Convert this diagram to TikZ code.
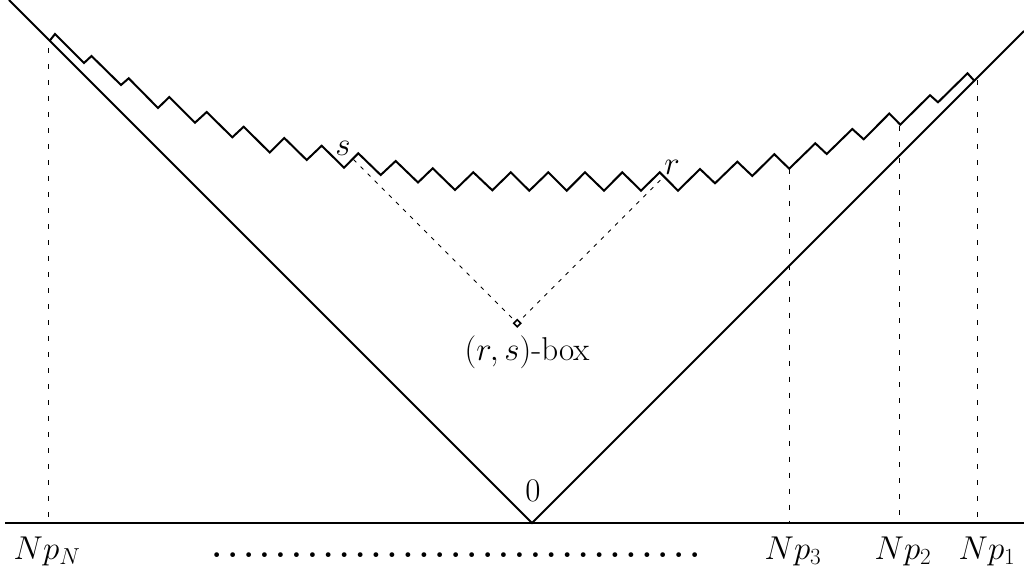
\RequirePackage{fix-cm}
\documentclass[tikz,border=0pt]{standalone}
\usetikzlibrary{calc}
\begin{document}
\begin{tikzpicture}[x=1pt,y=-1pt,
  thick line/.style={line width=2pt},
  guide/.style={line width=0.9pt, dash pattern=on 5pt off 11pt},
  lab/.style={font=\fontsize{33}{40}\selectfont, inner sep=0pt}]
\useasboundingbox (0,0) rectangle (1024,578);
% axis and cone
\coordinate (axL) at (5,523);
\coordinate (axR) at (1024,523);
\coordinate (apex) at (532,523);
\coordinate (coneL) at (9,0);
\coordinate (coneR) at (1024,31);
\draw[line width=2.4pt] (axL) -- (axR);
\draw[thick line] (coneL) -- (apex) -- (coneR);
% zigzag
\coordinate (zs) at (49.5,41);
\coordinate (ze) at (974.5,81);
\coordinate (speak) at (358.3,153.3);
\coordinate (rpeak) at (659.7,172.3);
\coordinate (v3) at (789.2,168.7);
\coordinate (v2) at (900.3,124.7);
\draw[thick line, line join=miter]
 (zs) -- (55,34) -- (84,63) -- (91.5,56) -- (121,85) -- (128.7,78.3) -- (158,108)
 -- (169.3,97) -- (195,122.7) -- (206.7,112) -- (232.3,137.3) -- (243.7,126.7)
 -- (269.7,152.5) -- (284.3,138) -- (306.7,160) -- (321.7,145.7) -- (344,167.7)
 -- (speak) -- (380.7,175) -- (395.7,161) -- (418,182.5) -- (432.7,168.3)
 -- (455,190) -- (473.3,172.3) -- (492.3,190.3) -- (510.8,172.3) -- (529.3,190.7)
 -- (548.3,172.3) -- (566.7,190.7) -- (585,172.3) -- (604,190.7) -- (622.3,172.3)
 -- (641,190.7) -- (rpeak) -- (678,190.7) -- (700,169) -- (715,183.3)
 -- (737.3,161.7) -- (752.3,176) -- (774.3,154.2) -- (v3) -- (815.3,143.3)
 -- (826.7,154) -- (852.3,129) -- (863.7,139.3) -- (889.3,113.5) -- (v2)
 -- (930,95.2) -- (938,102.3) -- (967.5,73.3) -- (ze);
% dashed verticals
\coordinate (dN) at (48.3,48);
\coordinate (dNb) at (48.3,523);
\coordinate (d3b) at (789.2,523);
\coordinate (d2) at (899.5,126);
\coordinate (d2b) at (899.5,523);
\coordinate (d1) at (977.5,80);
\coordinate (d1b) at (977.5,523);
\draw[guide] (dN) -- (dNb);
\draw[guide] (v3) -- (d3b);
\draw[guide] (d2) -- (d2b);
\draw[guide] (d1) -- (d1b);
% (r,s)-box
\coordinate (box) at (517.3,323.3);
\coordinate (sfoot) at (353.5,159.5);
\coordinate (rfoot) at (661.5,179);
\draw[guide, dash pattern=on 4pt off 6pt] (sfoot) -- (box) -- (rfoot);
\draw[line width=1.6pt, fill=white] ($(box)+(0,-3.5)$) -- ($(box)+(3.5,0)$) -- ($(box)+(0,3.5)$) -- ($(box)+(-3.5,0)$) -- cycle;
% labels
\node[lab] (slab) at (343,148) {$s$};
\node[lab] (rlab) at (672,167) {$r$};
\node[lab] (zero) at (533,491) {$0$};
\node[lab] (boxlab) at (527,352) {$(r,s)$-box};
\node[lab] (lN) at (47,551) {$Np_N$};
\node[lab] (l3) at (793,551) {$Np_3$};
\node[lab] (l2) at (903,551) {$Np_2$};
\node[lab] (l1) at (987,551) {$Np_1$};
\node[lab, anchor=west] (dots) at (208.7,555) {\foreach \i in {1,...,31}{\makebox[15.93pt]{\bfseries .}}};
\end{tikzpicture}
\end{document}
